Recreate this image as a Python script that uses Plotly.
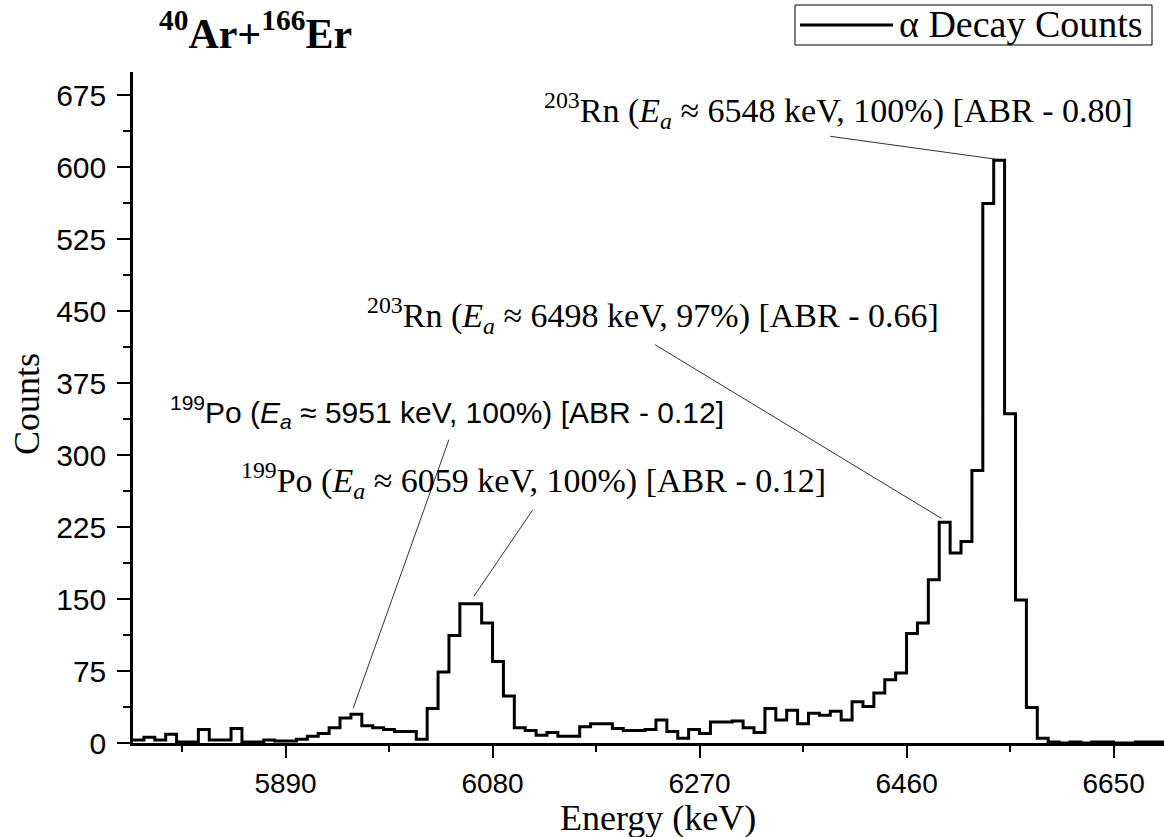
import plotly.graph_objects as go

# ---- data (10 keV bins, left edges) ----
bin_start = 5750
bin_width = 10
counts = [
    3, 6, 3, 9, 1, 1, 14, 3, 3, 15,          # 5750-5840
    1, 1, 3, 2, 2, 4, 7, 10, 16, 26,         # 5850-5940
    30, 18, 16, 14, 12, 12, 4, 36, 74, 112,  # 5950-6040
    145, 145, 125, 85, 49, 16, 13, 8, 11, 7, # 6050-6140
    7, 17, 20, 20, 15, 13, 13, 14, 24, 12,   # 6150-6240
    5, 14, 10, 22, 22, 23, 16, 11, 36, 24,   # 6250-6340
    34, 20, 31, 29, 33, 24, 43, 38, 52, 66,  # 6350-6440
    73, 114, 125, 170, 230, 198, 210, 284, 562, 607,  # 6450-6540
    343, 149, 37, 5, 1, 0, 1, 0, 1, 1,       # 6550-6640
    0, 0, 1, 1, 1,                           # 6650-6690
]
edges = [bin_start + bin_width * i for i in range(len(counts) + 1)]

x_ticks = [5890, 6080, 6270, 6460, 6650]
y_ticks = [0, 75, 150, 225, 300, 375, 450, 525, 600, 675]

# annotation pointer lines: (x_text, y_text, x_peak, y_peak) in data units
pointer_lines = [
    (6390, 632, 6543, 608),
    (6229, 415, 6492, 234),
    (6040, 316, 5952, 36),
    (6117, 243, 6063, 153),
]

fig = go.Figure()
fig.add_trace(go.Scatter(
    x=edges, y=counts + [counts[-1]],
    mode="lines", line=dict(color="black", width=3, shape="hv"),
    name="α Decay Counts", showlegend=False,
))

for x0, y0, x1, y1 in pointer_lines:
    fig.add_shape(type="line", xref="x", yref="y", x0=x0, y0=y0, x1=x1, y1=y1,
                  line=dict(color="#333333", width=1))

serif = "Liberation Serif"
sans = "Liberation Sans"

W, H = 1164, 837
L, R, T, B = 133, 0, 72, 94
pw, ph = W - L - R, H - T - B

def px(xp):
    return (xp - L) / pw

def py(yp):
    return (H - B - yp) / ph

ann = []
ann.append(dict(text="<b><sup>40</sup>Ar+<sup>166</sup>Er</b>", x=px(157), y=py(31),
                xanchor="left", yanchor="middle", font=dict(family=serif, size=42, color="black")))
ann.append(dict(text="<sup>203</sup>Rn (<i>E<sub>a</sub></i> ≈ 6548 keV, 100%) [ABR - 0.80]",
                x=px(838), y=py(110), xanchor="center", yanchor="middle",
                font=dict(family=serif, size=34, color="black")))
ann.append(dict(text="<sup>203</sup>Rn (<i>E<sub>a</sub></i> ≈ 6498 keV, 97%) [ABR - 0.66]",
                x=px(653), y=py(315), xanchor="center", yanchor="middle",
                font=dict(family=serif, size=34, color="black")))
ann.append(dict(text="<sup>199</sup>Po (<i>E<sub>a</sub></i> ≈ 5951 keV, 100%) [ABR - 0.12]",
                x=px(447), y=py(412), xanchor="center", yanchor="middle",
                font=dict(family=sans, size=30, color="black")))
ann.append(dict(text="<sup>199</sup>Po (<i>E<sub>a</sub></i> ≈ 6059 keV, 100%) [ABR - 0.12]",
                x=px(533), y=py(481), xanchor="center", yanchor="middle",
                font=dict(family=serif, size=34, color="black")))
ann.append(dict(text="Counts", x=px(27), y=py(404), textangle=-90,
                xanchor="center", yanchor="middle", font=dict(family=serif, size=36, color="black")))
ann.append(dict(text="Energy (keV)", x=px(658), y=py(818),
                xanchor="center", yanchor="middle", font=dict(family=serif, size=36, color="black")))
# legend text
ann.append(dict(text="α Decay Counts", x=px(897), y=py(24),
                xanchor="left", yanchor="middle", font=dict(family=serif, size=38, color="black")))
for a in ann:
    a.update(xref="paper", yref="paper", showarrow=False)

# legend box and sample
fig.add_shape(type="rect", xref="paper", yref="paper", x0=px(795), x1=px(1152), y0=py(45), y1=py(5),
              line=dict(color="black", width=1), fillcolor="rgba(0,0,0,0)")
fig.add_shape(type="line", xref="paper", yref="paper", x0=px(800), x1=px(893), y0=py(25), y1=py(25),
              line=dict(color="black", width=3))

fig.update_layout(
    width=W, height=H,
    margin=dict(l=L, r=R, t=T, b=B, pad=0),
    paper_bgcolor="white", plot_bgcolor="white",
    annotations=ann, showlegend=False,
)
fig.update_xaxes(
    range=[5750, 5750 + pw / 1.0895],
    tickvals=x_ticks, ticktext=[str(v) for v in x_ticks],
    ticks="outside", ticklen=12, tickwidth=2, tickcolor="black",
    showline=True, linecolor="black", linewidth=2.5,
    showgrid=False, zeroline=False,
    tickfont=dict(family=sans, size=28, color="black"),
    ticklabelstandoff=2,
    minor=dict(ticks="outside", ticklen=6, tickwidth=2, tickcolor="black", dtick=95, tick0=5890, showgrid=False),
)
fig.update_yaxes(
    range=[0, 699],
    tickvals=y_ticks,
    ticks="outside", ticklen=13, tickwidth=2, tickcolor="black",
    showline=True, linecolor="black", linewidth=2.5,
    showgrid=False, zeroline=False,
    tickfont=dict(family=sans, size=30, color="black"),
    ticklabelstandoff=5,
    minor=dict(ticks="outside", ticklen=7, tickwidth=2, tickcolor="black", dtick=37.5, tick0=0, showgrid=False),
)

fig.write_html("out.html")
